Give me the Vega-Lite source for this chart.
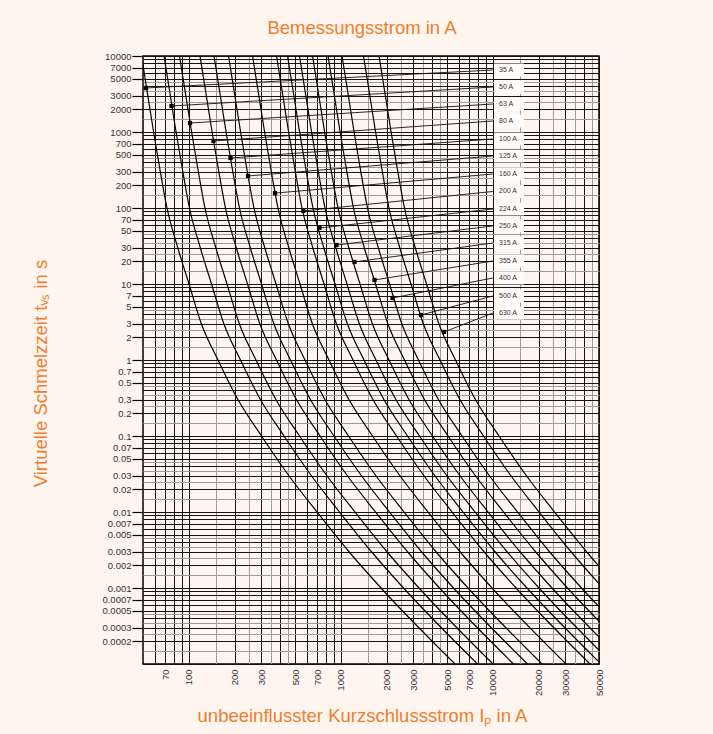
{
"$schema": "https://vega.github.io/schema/vega-lite/v6.json",
"width": 456, "height": 608,
"autosize": {"type": "none"},
"padding": {"left": 143, "top": 56, "right": 114, "bottom": 70},
"background": "#FEF5EF",
"config": {
  "view": {"fill": "#FEF6F0", "stroke": "#000000", "strokeWidth": 1.5},
  "font": "Liberation Sans",
  "axis": {"labelFont": "Liberation Sans", "labelColor": "#333333", "labelFontSize": 9.5, "titleFont": "Liberation Sans", "titleColor": "#F07D2E", "titleFontWeight": "normal", "titleFontSize": 18.5, "gridWidth": 1, "gridOpacity": 1, "domain": false, "labelOverlap": false, "labelFlush": false, "labelBound": false}
},
"title": {"text": "Bemessungsstrom in A", "color": "#F07D2E", "fontSize": 18.5, "fontWeight": "normal", "font": "Liberation Sans", "anchor": "middle", "dx": -9, "dy": 20, "offset": 15, "baseline": "bottom"},
"datasets": {
"curves": [
{"f":"35 A","I":48.9,"t":10000},{"f":"35 A","I":58.7,"t":1000},{"f":"35 A","I":65.0,"t":300},{"f":"35 A","I":71.9,"t":100},{"f":"35 A","I":84.7,"t":30},{"f":"35 A","I":100.4,"t":10},{"f":"35 A","I":121,"t":3},{"f":"35 A","I":155.7,"t":1},{"f":"35 A","I":211,"t":0.3},{"f":"35 A","I":301,"t":0.1},{"f":"35 A","I":456,"t":0.03},{"f":"35 A","I":698,"t":0.01},{"f":"35 A","I":1133,"t":0.003},{"f":"35 A","I":1840,"t":0.001},{"f":"35 A","I":5645,"t":0.0001},
{"f":"50 A","I":68.8,"t":10000},{"f":"50 A","I":82.5,"t":1000},{"f":"50 A","I":91.4,"t":300},{"f":"50 A","I":101.1,"t":100},{"f":"50 A","I":119.1,"t":30},{"f":"50 A","I":141.2,"t":10},{"f":"50 A","I":170.1,"t":3},{"f":"50 A","I":218.9,"t":1},{"f":"50 A","I":296.7,"t":0.3},{"f":"50 A","I":423.2,"t":0.1},{"f":"50 A","I":641,"t":0.03},{"f":"50 A","I":981,"t":0.01},{"f":"50 A","I":1593,"t":0.003},{"f":"50 A","I":2587,"t":0.001},{"f":"50 A","I":7937,"t":0.0001},
{"f":"63 A","I":86.9,"t":10000},{"f":"63 A","I":104.4,"t":1000},{"f":"63 A","I":115.6,"t":300},{"f":"63 A","I":127.8,"t":100},{"f":"63 A","I":150.6,"t":30},{"f":"63 A","I":178.5,"t":10},{"f":"63 A","I":215.1,"t":3},{"f":"63 A","I":276.8,"t":1},{"f":"63 A","I":375.2,"t":0.3},{"f":"63 A","I":535.2,"t":0.1},{"f":"63 A","I":810.8,"t":0.03},{"f":"63 A","I":1241,"t":0.01},{"f":"63 A","I":2014,"t":0.003},{"f":"63 A","I":3272,"t":0.001},{"f":"63 A","I":10037,"t":0.0001},
{"f":"80 A","I":118.6,"t":10000},{"f":"80 A","I":142.4,"t":1000},{"f":"80 A","I":157.7,"t":300},{"f":"80 A","I":174.4,"t":100},{"f":"80 A","I":205.5,"t":30},{"f":"80 A","I":243.6,"t":10},{"f":"80 A","I":293.5,"t":3},{"f":"80 A","I":377.7,"t":1},{"f":"80 A","I":511.9,"t":0.3},{"f":"80 A","I":730.2,"t":0.1},{"f":"80 A","I":1106,"t":0.03},{"f":"80 A","I":1693,"t":0.01},{"f":"80 A","I":2749,"t":0.003},{"f":"80 A","I":4464,"t":0.001},{"f":"80 A","I":13695,"t":0.0001},
{"f":"100 A","I":146.6,"t":10000},{"f":"100 A","I":176,"t":1000},{"f":"100 A","I":194.9,"t":300},{"f":"100 A","I":215.6,"t":100},{"f":"100 A","I":254,"t":30},{"f":"100 A","I":301.1,"t":10},{"f":"100 A","I":362.9,"t":3},{"f":"100 A","I":466.9,"t":1},{"f":"100 A","I":632.8,"t":0.3},{"f":"100 A","I":902.7,"t":0.1},{"f":"100 A","I":1368,"t":0.03},{"f":"100 A","I":2093,"t":0.01},{"f":"100 A","I":3398,"t":0.003},{"f":"100 A","I":5518,"t":0.001},{"f":"100 A","I":16929,"t":0.0001},
{"f":"125 A","I":182.7,"t":10000},{"f":"125 A","I":219.3,"t":1000},{"f":"125 A","I":242.8,"t":300},{"f":"125 A","I":268.6,"t":100},{"f":"125 A","I":316.4,"t":30},{"f":"125 A","I":375.1,"t":10},{"f":"125 A","I":452.1,"t":3},{"f":"125 A","I":581.7,"t":1},{"f":"125 A","I":788.3,"t":0.3},{"f":"125 A","I":1125,"t":0.1},{"f":"125 A","I":1704,"t":0.03},{"f":"125 A","I":2608,"t":0.01},{"f":"125 A","I":4233,"t":0.003},{"f":"125 A","I":6874,"t":0.001},{"f":"125 A","I":21090,"t":0.0001},
{"f":"160 A","I":262.8,"t":10000},{"f":"160 A","I":315.5,"t":1000},{"f":"160 A","I":349.3,"t":300},{"f":"160 A","I":386.4,"t":100},{"f":"160 A","I":455.2,"t":30},{"f":"160 A","I":539.5,"t":10},{"f":"160 A","I":650.3,"t":3},{"f":"160 A","I":836.7,"t":1},{"f":"160 A","I":1134,"t":0.3},{"f":"160 A","I":1618,"t":0.1},{"f":"160 A","I":2451,"t":0.03},{"f":"160 A","I":3751,"t":0.01},{"f":"160 A","I":6089,"t":0.003},{"f":"160 A","I":9888,"t":0.001},{"f":"160 A","I":30336,"t":0.0001},
{"f":"200 A","I":378.1,"t":10000},{"f":"200 A","I":453.9,"t":1000},{"f":"200 A","I":502.6,"t":300},{"f":"200 A","I":555.9,"t":100},{"f":"200 A","I":654.9,"t":30},{"f":"200 A","I":776.3,"t":10},{"f":"200 A","I":935.6,"t":3},{"f":"200 A","I":1204,"t":1},{"f":"200 A","I":1631,"t":0.3},{"f":"200 A","I":2327,"t":0.1},{"f":"200 A","I":3526,"t":0.03},{"f":"200 A","I":5397,"t":0.01},{"f":"200 A","I":8760,"t":0.003},{"f":"200 A","I":14227,"t":0.001},{"f":"200 A","I":43647,"t":0.0001},
{"f":"224 A","I":446.5,"t":10000},{"f":"224 A","I":536,"t":1000},{"f":"224 A","I":593.5,"t":300},{"f":"224 A","I":656.5,"t":100},{"f":"224 A","I":773.4,"t":30},{"f":"224 A","I":916.8,"t":10},{"f":"224 A","I":1105,"t":3},{"f":"224 A","I":1422,"t":1},{"f":"224 A","I":1927,"t":0.3},{"f":"224 A","I":2748,"t":0.1},{"f":"224 A","I":4164,"t":0.03},{"f":"224 A","I":6373,"t":0.01},{"f":"224 A","I":10345,"t":0.003},{"f":"224 A","I":16801,"t":0.001},{"f":"224 A","I":51544,"t":0.0001},
{"f":"250 A","I":535.5,"t":10000},{"f":"250 A","I":642.8,"t":1000},{"f":"250 A","I":711.8,"t":300},{"f":"250 A","I":787.3,"t":100},{"f":"250 A","I":927.5,"t":30},{"f":"250 A","I":1099,"t":10},{"f":"250 A","I":1325,"t":3},{"f":"250 A","I":1705,"t":1},{"f":"250 A","I":2310,"t":0.3},{"f":"250 A","I":3296,"t":0.1},{"f":"250 A","I":4993,"t":0.03},{"f":"250 A","I":7643,"t":0.01},{"f":"250 A","I":12406,"t":0.003},{"f":"250 A","I":20148,"t":0.001},{"f":"250 A","I":61813,"t":0.0001},
{"f":"315 A","I":652.3,"t":10000},{"f":"315 A","I":783.1,"t":1000},{"f":"315 A","I":867.1,"t":300},{"f":"315 A","I":959.1,"t":100},{"f":"315 A","I":1130,"t":30},{"f":"315 A","I":1339,"t":10},{"f":"315 A","I":1614,"t":3},{"f":"315 A","I":2077,"t":1},{"f":"315 A","I":2815,"t":0.3},{"f":"315 A","I":4015,"t":0.1},{"f":"315 A","I":6083,"t":0.03},{"f":"315 A","I":9311,"t":0.01},{"f":"315 A","I":15114,"t":0.003},{"f":"315 A","I":24546,"t":0.001},{"f":"315 A","I":75304,"t":0.0001},
{"f":"355 A","I":824.9,"t":10000},{"f":"355 A","I":990.3,"t":1000},{"f":"355 A","I":1097,"t":300},{"f":"355 A","I":1213,"t":100},{"f":"355 A","I":1429,"t":30},{"f":"355 A","I":1694,"t":10},{"f":"355 A","I":2041,"t":3},{"f":"355 A","I":2627,"t":1},{"f":"355 A","I":3560,"t":0.3},{"f":"355 A","I":5078,"t":0.1},{"f":"355 A","I":7693,"t":0.03},{"f":"355 A","I":11775,"t":0.01},{"f":"355 A","I":19114,"t":0.003},{"f":"355 A","I":31041,"t":0.001},{"f":"355 A","I":95232,"t":0.0001},
{"f":"400 A","I":1020,"t":10000},{"f":"400 A","I":1224,"t":1000},{"f":"400 A","I":1355,"t":300},{"f":"400 A","I":1499,"t":100},{"f":"400 A","I":1766,"t":30},{"f":"400 A","I":2093,"t":10},{"f":"400 A","I":2523,"t":3},{"f":"400 A","I":3246,"t":1},{"f":"400 A","I":4399,"t":0.3},{"f":"400 A","I":6276,"t":0.1},{"f":"400 A","I":9508,"t":0.03},{"f":"400 A","I":14553,"t":0.01},{"f":"400 A","I":23623,"t":0.003},{"f":"400 A","I":38364,"t":0.001},{"f":"400 A","I":117698,"t":0.0001},
{"f":"500 A","I":1412,"t":10000},{"f":"500 A","I":1695,"t":1000},{"f":"500 A","I":1877,"t":300},{"f":"500 A","I":2076,"t":100},{"f":"500 A","I":2445,"t":30},{"f":"500 A","I":2899,"t":10},{"f":"500 A","I":3493,"t":3},{"f":"500 A","I":4495,"t":1},{"f":"500 A","I":6092,"t":0.3},{"f":"500 A","I":8690,"t":0.1},{"f":"500 A","I":13165,"t":0.03},{"f":"500 A","I":20151,"t":0.01},{"f":"500 A","I":32710,"t":0.003},{"f":"500 A","I":53121,"t":0.001},{"f":"500 A","I":162970,"t":0.0001},
{"f":"630 A","I":1786,"t":10000},{"f":"630 A","I":2144,"t":1000},{"f":"630 A","I":2374,"t":300},{"f":"630 A","I":2626,"t":100},{"f":"630 A","I":3093,"t":30},{"f":"630 A","I":3667,"t":10},{"f":"630 A","I":4419,"t":3},{"f":"630 A","I":5686,"t":1},{"f":"630 A","I":7706,"t":0.3},{"f":"630 A","I":10993,"t":0.1},{"f":"630 A","I":16653,"t":0.03},{"f":"630 A","I":25491,"t":0.01},{"f":"630 A","I":41377,"t":0.003},{"f":"630 A","I":67197,"t":0.001},{"f":"630 A","I":206155,"t":0.0001}
],
"labels": [
{"f":"35 A","Idot":52.3,"tdot":3793,"tlab":6542},
{"f":"50 A","Idot":77.0,"tdot":2198,"tlab":3908},
{"f":"63 A","Idot":101.9,"tdot":1313,"tlab":2336},
{"f":"80 A","Idot":145.5,"tdot":762,"tlab":1395},
{"f":"100 A","Idot":188.2,"tdot":455,"tlab":809},
{"f":"125 A","Idot":245.4,"tdot":264,"tlab":483},
{"f":"160 A","Idot":369.3,"tdot":157,"tlab":280},
{"f":"200 A","Idot":567,"tdot":91.4,"tlab":164.9},
{"f":"224 A","Idot":723.5,"tdot":54.6,"tlab":97.0},
{"f":"250 A","Idot":937.6,"tdot":32.6,"tlab":58.0},
{"f":"315 A","Idot":1231,"tdot":19.5,"tlab":34.6},
{"f":"355 A","Idot":1667,"tdot":11.3,"tlab":20.07},
{"f":"400 A","Idot":2189,"tdot":6.54,"tlab":12.0},
{"f":"500 A","Idot":3372,"tdot":3.91,"tlab":6.95},
{"f":"630 A","Idot":4778,"tdot":2.34,"tlab":4.15}
]
},
"layer": [
{
  "data": {"name": "curves"},
  "mark": {"type": "line", "color": "#000000", "strokeWidth": 1.2, "interpolate": "monotone", "clip": true},
  "encoding": {
    "x": {"field": "I", "type": "quantitative",
      "scale": {"type": "log", "domain": [50, 50000], "nice": false},
      "axis": {
        "title": "unbeeinflusster Kurzschlussstrom Iₚ in A",
        "titleX": 219, "titleY": 57.5, "titleAlign": "center", "titleBaseline": "alphabetic", "titleAngle": 0,
        "values": [60,70,80,90,100,150,200,250,300,350,400,450,500,600,700,800,900,1000,1500,2000,2500,3000,3500,4000,4500,5000,6000,7000,8000,9000,10000,15000,20000,25000,30000,35000,40000,45000,50000],
        "labelExpr": "indexof([70,100,200,300,500,700,1000,2000,3000,5000,7000,10000,20000,30000,50000], datum.value) >= 0 ? '' + datum.value : ''",
        "labelAngle": 270, "labelAlign": "right", "labelBaseline": "middle", "labelPadding": 5,
        "ticks": false, "grid": true,
        "gridColor": {"condition": {"test": "indexof([150,250,350,450,1500,2500,3500,4500,15000,25000,35000,45000], datum.value) >= 0", "value": "#9c9c9c"}, "value": "#141414"}
      }},
    "y": {"field": "t", "type": "quantitative",
      "scale": {"type": "log", "domain": [0.0001, 10000], "nice": false},
      "axis": {
        "title": "Virtuelle Schmelzzeit tᵥₛ in s",
        "titleX": -96.5, "titleY": 317, "titleAlign": "center", "titleBaseline": "alphabetic", "titleAngle": 270,
        "values": [0.0001,0.00015,0.0002,0.00025,0.0003,0.00035,0.0004,0.00045,0.0005,0.0006,0.0007,0.0008,0.0009,0.001,0.0015,0.002,0.0025,0.003,0.0035,0.004,0.0045,0.005,0.006,0.007,0.008,0.009,0.01,0.015,0.02,0.025,0.03,0.035,0.04,0.045,0.05,0.06,0.07,0.08,0.09,0.1,0.15,0.2,0.25,0.3,0.35,0.4,0.45,0.5,0.6,0.7,0.8,0.9,1,1.5,2,2.5,3,3.5,4,4.5,5,6,7,8,9,10,15,20,25,30,35,40,45,50,60,70,80,90,100,150,200,250,300,350,400,450,500,600,700,800,900,1000,1500,2000,2500,3000,3500,4000,4500,5000,6000,7000,8000,9000,10000],
        "labelExpr": "indexof([10000,7000,5000,3000,2000,1000,700,500,300,200,100,70,50,30,20,10,7,5,3,2,1,0.7,0.5,0.3,0.2,0.1,0.07,0.05,0.03,0.02,0.01,0.007,0.005,0.003,0.002,0.001,0.0007,0.0005,0.0003,0.0002], datum.value) >= 0 ? '' + datum.value : ''",
        "labelPadding": 1, "tickSize": 11, "tickWidth": 1.2,
        "tickColor": {"condition": {"test": "indexof([10000,7000,5000,3000,2000,1000,700,500,300,200,100,70,50,30,20,10,7,5,3,2,1,0.7,0.5,0.3,0.2,0.1,0.07,0.05,0.03,0.02,0.01,0.007,0.005,0.003,0.002,0.001,0.0007,0.0005,0.0003,0.0002], datum.value) >= 0", "value": "#000000"}, "value": "rgba(0,0,0,0)"},
        "grid": true,
        "gridColor": {"condition": {"test": "indexof([0.00015,0.00025,0.00035,0.00045,0.0015,0.0025,0.0035,0.0045,0.015,0.025,0.035,0.045,0.15,0.25,0.35,0.45,1.5,2.5,3.5,4.5,15,25,35,45,150,250,350,450,1500,2500,3500,4500], datum.value) >= 0", "value": "#9c9c9c"}, "value": "#141414"}
      }},
    "detail": {"field": "f"}
  }
},
{
  "data": {"name": "labels"},
  "mark": {"type": "rule", "color": "#111111", "strokeWidth": 0.9},
  "encoding": {
    "x": {"field": "Idot", "type": "quantitative"},
    "y": {"field": "tdot", "type": "quantitative"},
    "x2": {"datum": 10000},
    "y2": {"field": "tlab"}
  }
},
{
  "data": {"name": "labels"},
  "mark": {"type": "square", "size": 18, "color": "#000000", "opacity": 1, "filled": true},
  "encoding": {
    "x": {"field": "Idot", "type": "quantitative"},
    "y": {"field": "tdot", "type": "quantitative"}
  }
},
{
  "data": {"name": "labels"},
  "mark": {"type": "tick", "orient": "horizontal", "color": "#FFFCFA", "opacity": 1, "size": 30, "thickness": 13},
  "encoding": {
    "x": {"datum": 12790},
    "y": {"field": "tlab", "type": "quantitative"}
  }
},
{
  "data": {"name": "labels"},
  "mark": {"type": "text", "align": "left", "baseline": "middle", "fontSize": 7, "color": "#333333", "font": "Liberation Sans"},
  "encoding": {
    "x": {"datum": 11000},
    "y": {"field": "tlab", "type": "quantitative"},
    "text": {"field": "f"}
  }
}
]
}
